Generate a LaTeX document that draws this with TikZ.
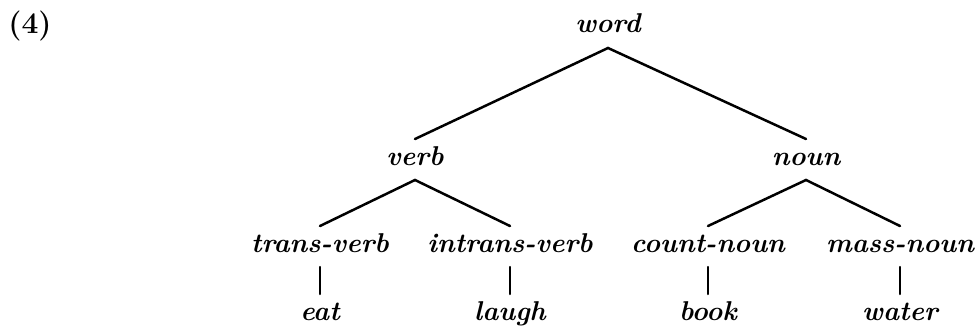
\documentclass[tikz,border=0pt]{standalone}
\begin{document}
\begin{tikzpicture}[x=0.5pt,y=-0.5pt,
  cat/.style={anchor=base,inner sep=0pt,outer sep=0pt,text height=13pt,text depth=7.5pt,
    font=\fontsize{13.6}{16}\selectfont\bfseries\itshape},
  branch/.style={line width=1.25pt,line cap=round}]
\useasboundingbox (0,0) rectangle (977,331);
\node[anchor=base west,inner sep=0pt,font=\fontsize{15}{18}\selectfont\bfseries] (ex) at (8,34) {(4)};
\node[cat] (word) at (608,33) {word};
\node[cat] (verb) at (415,165) {verb};
\node[cat] (noun) at (806,165) {noun};
\node[cat] (tv) at (320,252) {trans-verb};
\node[cat] (iv) at (510,252) {intrans-verb};
\node[cat] (cn) at (708,252) {count-noun};
\node[cat] (mn) at (900,252) {mass-noun};
\node[cat] (eat) at (320,320) {eat};
\node[cat] (laugh) at (510,320) {laugh};
\node[cat] (book) at (708,320) {book};
\node[cat] (water) at (900,320) {water};
\draw[branch] (verb.north) -- (word.south) -- (noun.north);
\draw[branch] (tv.north) -- (verb.south) -- (iv.north);
\draw[branch] (cn.north) -- (noun.south) -- (mn.north);
\draw[branch] (tv.south) -- (eat.north);
\draw[branch] (iv.south) -- (laugh.north);
\draw[branch] (cn.south) -- (book.north);
\draw[branch] (mn.south) -- (water.north);
\end{tikzpicture}
\end{document}
